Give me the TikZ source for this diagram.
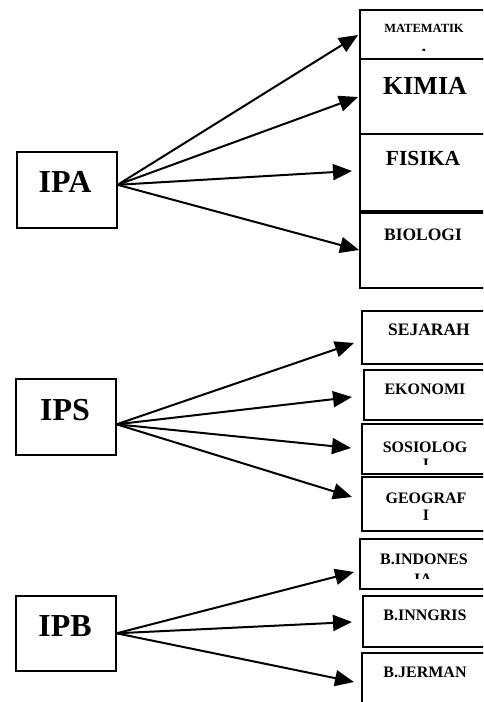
\documentclass[tikz,border=0pt]{standalone}
\usepackage{fontspec}
\setmainfont{Liberation Serif}
\usetikzlibrary{arrows.meta}
\tikzset{
	mainbox/.style={draw,line width=1.6pt,anchor=north west,inner sep=0pt,minimum width=100pt,minimum height=76pt},
	subjbox/.style={draw,line width=1.6pt,anchor=north west,inner sep=0pt,minimum width=130pt},
	txt/.style={anchor=base,inner sep=0pt,font=\bfseries}
}

\begin{document}
\begin{tikzpicture}[x=1pt,y=-1pt,->,>={Triangle[length=19pt,width=16pt]},line width=2pt]
	\useasboundingbox (0,0) rectangle (483,702);
	\clip (0,0) rectangle (483,702);
	% left boxes
	\node [mainbox] (ipa) at (16,151) {};
	\node [mainbox] (ips) at (15,378) {};
	\node [mainbox,minimum height=75pt] (ipb) at (15,595) {};
	\node [txt,font=\fontsize{32}{32}\bfseries] at (65,192) {IPA};
	\node [txt,font=\fontsize{32}{32}\bfseries] at (65,420) {IPS};
	\node [txt,font=\fontsize{32}{32}\bfseries] at (65,636) {IPB};
	% right boxes
	\node [subjbox,minimum height=49pt] (mat) at (359,9) {};
	\node [subjbox,minimum height=75pt] (kim) at (359,58) {};
	\node [subjbox,minimum height=77pt] (fis) at (359,133) {};
	\node [subjbox,minimum height=75pt] (bio) at (359,212) {};
	\node [subjbox,minimum height=53pt] (sej) at (361,310) {};
	\node [subjbox,minimum height=50pt] (eko) at (363,369) {};
	\node [subjbox,minimum height=50pt] (sos) at (361,423) {};
	\node [subjbox,minimum height=54pt] (geo) at (361,476) {};
	\node [subjbox,minimum height=50pt] (bind) at (359,538) {};
	\node [subjbox,minimum height=51pt] (bing) at (362,595) {};
	\node [subjbox,minimum height=60pt] (bjer) at (361,652) {};
	% texts
	\node [txt,font=\fontsize{12.5}{12.5}\bfseries] at (424,32) {MATEMATIK};
	\begin{scope}
		\clip (360,40) rectangle (483,50);
		\node [txt,font=\fontsize{12.5}{12.5}\bfseries] at (424,57) {A};
	\end{scope}
	\node [txt,font=\fontsize{26}{26}\bfseries] at (425,94) {KIMIA};
	\node [txt,font=\fontsize{21.5}{21.5}\bfseries] at (423,165) {FISIKA};
	\node [txt,font=\fontsize{17.5}{17.5}\bfseries] at (423,240) {BIOLOGI};
	\node [txt,font=\fontsize{17.5}{17.5}\bfseries] at (429,335) {SEJARAH};
	\node [txt,font=\fontsize{16}{16}\bfseries] at (425,394) {EKONOMI};
	\node [txt,font=\fontsize{16}{16}\bfseries] at (425,452) {SOSIOLOG};
	\begin{scope}
		\clip (362,455) rectangle (483,464);
		\node [txt,font=\fontsize{16}{16}\bfseries] at (426,469) {I};
	\end{scope}
	\node [txt,font=\fontsize{16}{16}\bfseries] at (426,503) {GEOGRAF};
	\node [txt,font=\fontsize{16}{16}\bfseries] at (426,520) {I};
	\node [txt,font=\fontsize{16}{16}\bfseries] at (424,564) {B.INDONES};
	\begin{scope}
		\clip (360,568) rectangle (483,578);
		\node [txt,font=\fontsize{16}{16}\bfseries] at (423,584) {IA};
	\end{scope}
	\node [txt,font=\fontsize{16}{16}\bfseries] at (425,620) {B.INNGRIS};
	\node [txt,font=\fontsize{16}{16}\bfseries] at (425,677) {B.JERMAN};
	% arrow tips
	\coordinate (tmat) at (358,35);
	\coordinate (tkim) at (358,97);
	\coordinate (tfis) at (352,171);
	\coordinate (tbio) at (359,250);
	\coordinate (tsej) at (354,343);
	\coordinate (teko) at (352,397);
	\coordinate (tsos) at (351,448);
	\coordinate (tgeo) at (352,497);
	\coordinate (tbind) at (354,572);
	\coordinate (tbing) at (352,622);
	\coordinate (tbjer) at (354,682);
	% arrows
	\foreach \t in {tmat,tkim,tfis,tbio}
		\draw ([yshift=5pt]ipa.east) -- (\t);
	\foreach \t in {tsej,teko,tsos,tgeo}
		\draw ([yshift=-7.5pt]ips.east) -- (\t);
	\foreach \t in {tbind,tbing,tbjer}
		\draw (ipb.east) -- (\t);
\end{tikzpicture}
\end{document}
